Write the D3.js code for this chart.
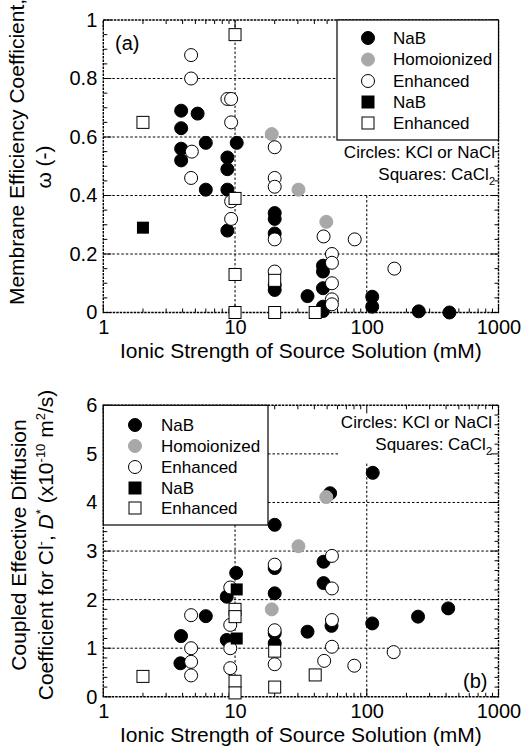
<!DOCTYPE html>
<html><head><meta charset="utf-8">
<script src="https://cdn.jsdelivr.net/npm/d3@7"></script>
<style>body{margin:0;background:#fff}svg{display:block}text{font-family:"Liberation Sans",Arial,Helvetica,sans-serif;fill:#000}</style>
</head><body>
<svg id="c" width="521" height="751"></svg>
<script>
// ---------- DATA ----------
const xTickValues = [1, 10, 100, 1000];
const xTickLabels = ["1", "10", "100", "1000"];
const aYTicks = [0, 0.2, 0.4, 0.6, 0.8, 1];
const aYTickLabels = ["0", "0.2", "0.4", "0.6", "0.8", "1"];
const bYTicks = [0, 1, 2, 3, 4, 5, 6];
const bYTickLabels = ["0", "1", "2", "3", "4", "5", "6"];
const legendLabels = ["NaB", "Homoionized", "Enhanced", "NaB", "Enhanced"];

// Panel (a): membrane efficiency coefficient
const aNaB_x = [3.9,5.2,3.9,6.0,10.3,3.9,3.9,8.75,8.75,8.75,6.0,8.75,20,20,20,46.5,46.5,20,20,46.5,35.5,46.5,46.5,110,110,248,424];
const aNaB_y = [0.69,0.68,0.63,0.58,0.58,0.56,0.52,0.53,0.49,0.42,0.42,0.28,0.34,0.32,0.27,0.16,0.14,0.094,0.077,0.083,0.056,0.02,0.005,0.054,0.02,0.004,0.0];
const aHomo_x = [19, 30.3, 49.3];
const aHomo_y = [0.61, 0.42, 0.31];
const aEnh_x = [4.64,4.64,8.75,9.34,9.34,4.7,4.64,9.34,9.34,20,20,20,20,47,81,54.4,54.4,162,20,54.4,54.4,54.4];
const aEnh_y = [0.88,0.80,0.73,0.73,0.65,0.55,0.46,0.38,0.32,0.565,0.46,0.43,0.25,0.26,0.25,0.2,0.17,0.15,0.14,0.1,0.045,0.028];
const aSqNaB_x = [2];
const aSqNaB_y = [0.29];
const aSqEnh_x = [10, 2, 10, 10, 10, 20, 20, 40.6];
const aSqEnh_y = [0.95, 0.65, 0.39, 0.13, 0.0, 0.11, 0.0, 0.0];

// Panel (b): coupled effective diffusion coefficient
const bNaB_x = [10.2,8.65,6.0,3.89,8.65,3.85,20,35.5,54,110,245,415,52.7,111,20,47,20,47,20,20];
const bNaB_y = [2.55,2.06,1.66,1.25,1.17,0.69,1.1,1.34,1.46,1.51,1.65,1.82,4.19,4.61,3.54,2.78,2.65,2.34,2.13,1.31];
const bHomo_x = [49.3, 30.3, 19];
const bHomo_y = [4.11, 3.1, 1.8];
const bEnh_x = [9.2,4.64,9.2,4.64,9.2,4.64,4.64,9.2,20,20,20,54.4,54.4,54.4,54.4,47.5,80.4,160];
const bEnh_y = [2.25,1.68,1.48,1.0,1.0,0.72,0.44,0.59,2.72,1.37,0.67,2.9,2.23,1.58,1.03,0.74,0.64,0.92];
const bSqNaB_x = [10.3, 10.3];
const bSqNaB_y = [2.21, 1.2];
const bSqEnh_x = [10, 10, 20, 2, 10, 10, 20, 40.6];
const bSqEnh_y = [1.8, 1.65, 0.94, 0.42, 0.32, 0.08, 0.2, 0.45];

// ---------- DRAW ----------
const svg = d3.select("#c");
const L = 103.3, R = 498.5;
const x = d3.scaleLog().domain([1, 1000]).range([L, R]);
const yA = d3.scaleLinear().domain([0, 1]).range([312.5, 20]);
const yB = d3.scaleLinear().domain([0, 6]).range([696.8, 405.3]);
const GRAY = "#a8a8a8";
const R_C = 6.5, S_Q = 12;

const zip = (xs, ys) => xs.map((v, i) => [v, ys[i]]);
const minorX = [];
for (let d = 1; d < 1000; d *= 10) for (let k = 2; k <= 9; k++) minorX.push(d * k);

function frame(g, y, yMinorStep, yMajor) {
  const [y0, y1] = y.range();
  const [d0, d1] = y.domain();
  const tk = g.append("g").attr("stroke", "#000").attr("stroke-width", 1);
  minorX.forEach(v => {
    tk.append("line").attr("x1", x(v)).attr("x2", x(v)).attr("y1", y0).attr("y2", y0 - 4);
    tk.append("line").attr("x1", x(v)).attr("x2", x(v)).attr("y1", y1).attr("y2", y1 + 4);
  });
  xTickValues.forEach(v => {
    tk.append("line").attr("x1", x(v)).attr("x2", x(v)).attr("y1", y0).attr("y2", y0 - 8);
    tk.append("line").attr("x1", x(v)).attr("x2", x(v)).attr("y1", y1).attr("y2", y1 + 8);
  });
  const n = Math.round((d1 - d0) / yMinorStep);
  for (let i = 0; i <= n; i++) {
    const v = d0 + i * yMinorStep;
    const isMaj = Math.abs(v / yMajor - Math.round(v / yMajor)) < 1e-6;
    const len = isMaj ? 8 : 4;
    tk.append("line").attr("x1", L).attr("x2", L + len).attr("y1", y(v)).attr("y2", y(v));
    tk.append("line").attr("x1", R).attr("x2", R - len).attr("y1", y(v)).attr("y2", y(v));
  }
  g.append("rect").attr("x", L).attr("y", y1).attr("width", R - L).attr("height", y0 - y1)
    .attr("fill", "none").attr("stroke", "#000").attr("stroke-width", 1.4).attr("stroke-dasharray", "2.5,1");
  const xl = d3.axisBottom(x).tickValues(xTickValues).tickFormat((d, i) => xTickLabels[i]).tickSize(0).tickPadding(0);
  const ax = g.append("g").attr("transform", `translate(0,${y0})`).call(xl);
  ax.select(".domain").remove();
  ax.selectAll("text").attr("font-size", 20).attr("dy", "0").attr("y", 21)
    .attr("font-family", '"Liberation Sans",Arial,sans-serif').attr("fill", "#000");
}

function yLabels(g, y, vals, labels) {
  const ay = d3.axisLeft(y).tickValues(vals).tickFormat((d, i) => labels[i]).tickSize(0).tickPadding(0);
  const a = g.append("g").attr("transform", `translate(${L - 6},0)`).call(ay);
  a.select(".domain").remove();
  a.selectAll("text").attr("font-size", 20).attr("font-family", '"Liberation Sans",Arial,sans-serif').attr("fill", "#000");
}

function grid(g, segs) {
  g.append("g").selectAll("line").data(segs).join("line")
    .attr("x1", d => d[0]).attr("x2", d => d[1]).attr("y1", d => d[2]).attr("y2", d => d[3])
    .attr("stroke", "#000").attr("stroke-width", 1).attr("stroke-dasharray", "2.5,2");
}

function marks(g, y, sets) {
  const [nab, homo, enh, sqNab, sqEnh] = sets;
  g.append("g").selectAll("circle").data(nab).join("circle")
    .attr("cx", d => x(d[0])).attr("cy", d => y(d[1])).attr("r", R_C).attr("fill", "#000").attr("stroke", "#000");
  g.append("g").selectAll("circle").data(homo).join("circle")
    .attr("cx", d => x(d[0])).attr("cy", d => y(d[1])).attr("r", R_C).attr("fill", GRAY).attr("stroke", GRAY);
  g.append("g").selectAll("circle").data(enh).join("circle")
    .attr("cx", d => x(d[0])).attr("cy", d => y(d[1])).attr("r", R_C).attr("fill", "#fff").attr("stroke", "#000").attr("stroke-width", 1);
  g.append("g").selectAll("rect").data(sqNab).join("rect")
    .attr("x", d => x(d[0]) - S_Q / 2).attr("y", d => y(d[1]) - S_Q / 2).attr("width", S_Q).attr("height", S_Q).attr("fill", "#000");
  g.append("g").selectAll("rect").data(sqEnh).join("rect")
    .attr("x", d => x(d[0]) - S_Q / 2).attr("y", d => y(d[1]) - S_Q / 2).attr("width", S_Q).attr("height", S_Q)
    .attr("fill", "#fff").attr("stroke", "#000").attr("stroke-width", 1);
}

function legend(g, bx, by, bw, bh, mx, tx, rows) {
  g.append("rect").attr("x", bx).attr("y", by).attr("width", bw).attr("height", bh)
    .attr("fill", "#fff").attr("stroke", "#000").attr("stroke-width", 1.2);
  const styles = ["fc", "gc", "oc", "fs", "os"];
  rows.forEach((ry, i) => {
    const s = styles[i];
    if (s[1] === "c") {
      g.append("circle").attr("cx", mx).attr("cy", ry).attr("r", R_C)
        .attr("fill", s === "fc" ? "#000" : s === "gc" ? GRAY : "#fff")
        .attr("stroke", s === "gc" ? GRAY : "#000");
    } else {
      g.append("rect").attr("x", mx - S_Q / 2).attr("y", ry - S_Q / 2).attr("width", S_Q).attr("height", S_Q)
        .attr("fill", s === "fs" ? "#000" : "#fff").attr("stroke", "#000");
    }
    g.append("text").attr("x", tx).attr("y", ry).attr("dominant-baseline", "central")
      .attr("font-size", 17).text(legendLabels[i]);
  });
}

function note(g, xr, yb) {
  g.append("text").attr("x", xr).attr("y", yb).attr("text-anchor", "end").attr("font-size", 17)
    .text("Circles: KCl or NaCl");
  const t = g.append("text").attr("x", xr).attr("y", yb + 22).attr("text-anchor", "end").attr("font-size", 17);
  t.append("tspan").text("Squares: CaCl");
  t.append("tspan").attr("font-size", 11).attr("dy", 5).text("2");
}

// ---- Panel (a) ----
const gA = svg.append("g");
grid(gA, [
  [L, 337, yA(0.8), yA(0.8)], [L, 337, yA(0.6), yA(0.6)],
  [L, R, yA(0.4), yA(0.4)], [L, R, yA(0.2), yA(0.2)],
  [x(10), x(10), yA(1), yA(0)], [x(100), x(100), yA(0.4), yA(0)]
]);
note(gA, 495, 158);
frame(gA, yA, 0.05, 0.2);
yLabels(gA, yA, aYTicks, aYTickLabels);
marks(gA, yA, [zip(aNaB_x, aNaB_y), zip(aHomo_x, aHomo_y), zip(aEnh_x, aEnh_y), zip(aSqNaB_x, aSqNaB_y), zip(aSqEnh_x, aSqEnh_y)]);
legend(gA, 337, 20, R - 337, 120, 368, 393, [38, 59.5, 81, 102, 123]);
gA.append("text").attr("x", 115).attr("y", 50).attr("font-size", 20).text("(a)");
gA.append("text").attr("x", (L + R) / 2).attr("y", 358).attr("text-anchor", "middle").attr("font-size", 21)
  .text("Ionic Strength of Source Solution (mM)");
gA.append("text").attr("transform", "translate(24,152) rotate(-90)").attr("text-anchor", "middle").attr("font-size", 21)
  .text("Membrane Efficiency Coefficient,");
gA.append("text").attr("transform", "translate(51,167) rotate(-90)").attr("text-anchor", "middle").attr("font-size", 21)
  .text("ω (-)");

// ---- Panel (b) ----
const gB = svg.append("g");
grid(gB, [
  [268, 340, yB(5), yB(5)], [268, R, yB(4), yB(4)],
  [L, R, yB(3), yB(3)], [L, R, yB(2), yB(2)], [L, R, yB(1), yB(1)],
  [x(10), x(10), 525, yB(0)], [x(100), x(100), yB(4.8), yB(0)]
]);
note(gB, 492, 428);
frame(gB, yB, 0.2, 1);
yLabels(gB, yB, bYTicks, bYTickLabels);
marks(gB, yB, [zip(bNaB_x, bNaB_y), zip(bHomo_x, bHomo_y), zip(bEnh_x, bEnh_y), zip(bSqNaB_x, bSqNaB_y), zip(bSqEnh_x, bSqEnh_y)]);
legend(gB, L, yB(6), 268 - L, 525 - yB(6), 135, 161, [425, 446, 467, 488, 508]);
gB.append("text").attr("x", 463).attr("y", 688).attr("font-size", 20).text("(b)");
gB.append("text").attr("x", (L + R) / 2).attr("y", 742).attr("text-anchor", "middle").attr("font-size", 21)
  .text("Ionic Strength of Source Solution (mM)");
gB.append("text").attr("transform", "translate(26,545) rotate(-90)").attr("text-anchor", "middle").attr("font-size", 21)
  .text("Coupled Effective Diffusion");
const t2 = gB.append("text").attr("transform", "translate(53,545) rotate(-90)").attr("text-anchor", "middle").attr("font-size", 21);
t2.append("tspan").text("Coefficient for Cl");
t2.append("tspan").attr("font-size", 13).attr("dy", -8).text("-");
t2.append("tspan").attr("dy", 8).text(", ");
t2.append("tspan").attr("font-style", "italic").text("D");
t2.append("tspan").attr("font-size", 13).attr("dy", -8).text("*");
t2.append("tspan").attr("dy", 8).text(" (x10");
t2.append("tspan").attr("font-size", 13).attr("dy", -8).text("-10");
t2.append("tspan").attr("dy", 8).text(" m");
t2.append("tspan").attr("font-size", 13).attr("dy", -8).text("2");
t2.append("tspan").attr("dy", 8).text("/s)");
</script>
</body></html>
